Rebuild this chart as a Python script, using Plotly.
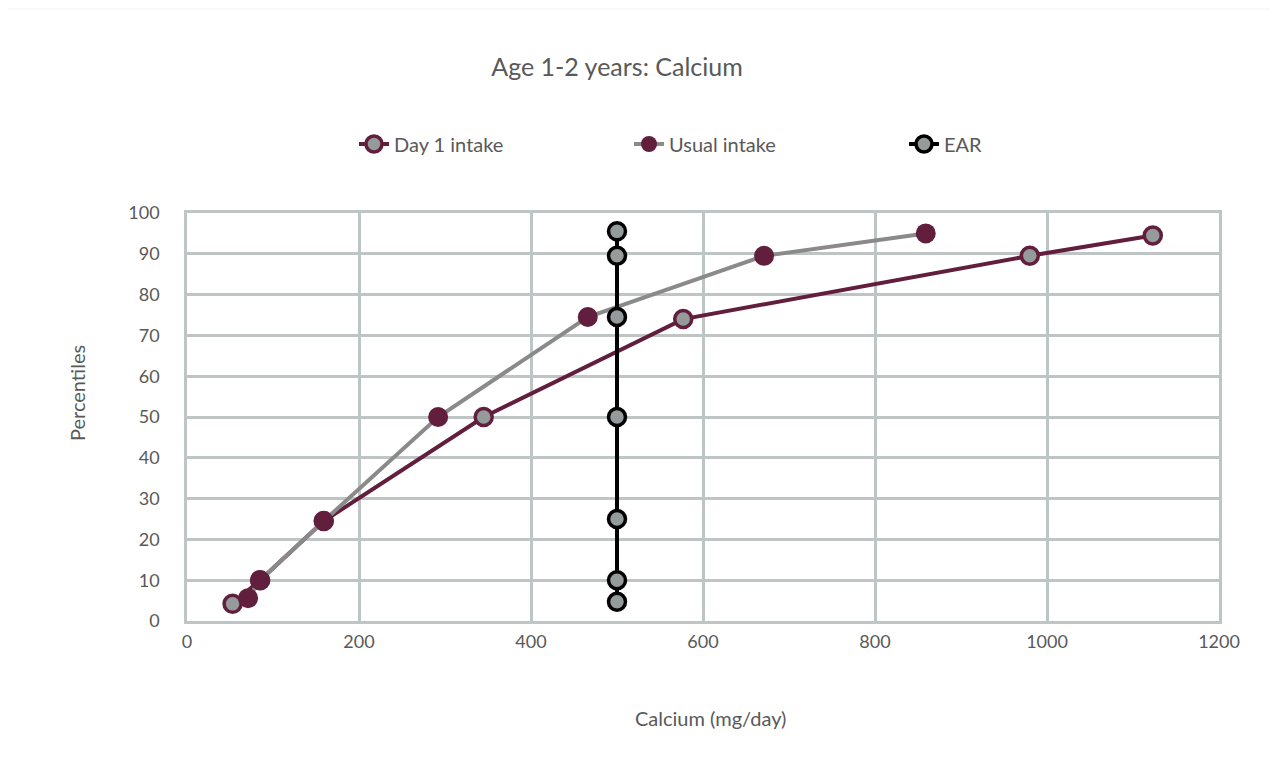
import plotly.graph_objects as go

# Data
day1_x = [53, 85, 159, 345, 577, 980, 1123]
day1_y = [4.2, 10, 24.5, 50, 74, 89.5, 94.5]

usual_x = [71, 85, 159, 292, 466, 671, 859]
usual_y = [5.6, 10, 24.5, 50, 74.5, 89.5, 95]

ear_x = [500, 500, 500, 500, 500, 500, 500]
ear_y = [4.7, 10, 25, 50, 74.5, 89.5, 95.5]

x_ticks = [0, 200, 400, 600, 800, 1000, 1200]
y_ticks = [0, 10, 20, 30, 40, 50, 60, 70, 80, 90, 100]

MAROON = "#621f3d"
GRAY_LINE = "#8a8a8a"
GRAY_FILL = "#959a9a"
GRID = "#bfc5c5"
TEXT = "#595959"
FONT = "Lato, Open Sans, sans-serif"

fig = go.Figure()

fig.add_trace(go.Scatter(
    x=day1_x, y=day1_y, name="Day 1 intake", mode="lines+markers",
    line=dict(color=MAROON, width=4),
    marker=dict(size=17, color=GRAY_FILL, line=dict(color=MAROON, width=3.5)),
))
fig.add_trace(go.Scatter(
    x=usual_x, y=usual_y, name="Usual intake", mode="lines+markers",
    line=dict(color=GRAY_LINE, width=4),
    marker=dict(size=20, color=MAROON, line=dict(color=MAROON, width=0)),
))
fig.add_trace(go.Scatter(
    x=ear_x, y=ear_y, name="EAR", mode="lines+markers",
    line=dict(color="#000000", width=4),
    marker=dict(size=17, color=GRAY_FILL, line=dict(color="#000000", width=3.5)),
))

# page is offset by 8px body margin; figure coords = page - 8
OFF = 8
W, H = 1278 - OFF, 773 - OFF
PX0, PX1, PY0, PY1 = 187 - OFF, 1219 - OFF, 213 - OFF, 621 - OFF
L, R, T, B = PX0, W - PX1, PY0, H - PY1
pw, ph = PX1 - PX0, PY1 - PY0

def px_to_paper_x(px):
    return (px - OFF - PX0) / pw

def px_to_paper_y(py):
    return (PY1 - (py - OFF)) / ph

fig.add_shape(type="rect", xref="paper", yref="paper",
              x0=px_to_paper_x(2), x1=px_to_paper_x(1300),
              y0=px_to_paper_y(800), y1=px_to_paper_y(10),
              fillcolor="white", line=dict(width=0), layer="below")

# axis titles as annotations for precise placement
fig.add_annotation(text="Percentiles", xref="paper", yref="paper",
                   x=px_to_paper_x(77), y=px_to_paper_y(393), textangle=-90,
                   showarrow=False, xanchor="center", yanchor="middle",
                   font=dict(size=20, color=TEXT, family=FONT))
fig.add_annotation(text="Calcium (mg/day)", xref="paper", yref="paper",
                   x=px_to_paper_x(710), y=px_to_paper_y(718),
                   showarrow=False, xanchor="center", yanchor="middle",
                   font=dict(size=20, color=TEXT, family=FONT))

fig.update_layout(
    width=W, height=H,
    margin=dict(l=L, r=R, t=T, b=B),
    paper_bgcolor="#f8f9f8",
    plot_bgcolor="rgba(0,0,0,0)",
    font=dict(family=FONT, color=TEXT, size=18),
    title=dict(text="Age 1-2 years: Calcium", x=(617 - OFF) / W, xanchor="center",
               xref="container", yref="container", y=1 - (67 - OFF) / H, yanchor="middle",
               font=dict(size=25, color=TEXT)),
    legend=dict(orientation="h", x=px_to_paper_x(354), xanchor="left",
                y=px_to_paper_y(144), yanchor="middle",
                entrywidth=230, entrywidthmode="pixels",
                font=dict(size=20, color=TEXT), bgcolor="rgba(0,0,0,0)"),
    showlegend=True,
)

fig.update_xaxes(range=[0, 1200], tickvals=x_ticks, ticktext=[str(v) for v in x_ticks],
                 showgrid=True, gridcolor=GRID, gridwidth=2.5,
                 showline=True, linecolor=GRID, linewidth=2.5, mirror=True,
                 zeroline=False, ticks="", ticklabelstandoff=3,
                 tickfont=dict(size=18, color=TEXT))
fig.update_yaxes(range=[0, 100], tickvals=y_ticks, ticktext=[str(v) for v in y_ticks],
                 showgrid=True, gridcolor=GRID, gridwidth=2.5,
                 showline=True, linecolor=GRID, linewidth=2.5, mirror=True,
                 zeroline=False, ticks="", ticklabelstandoff=21,
                 tickfont=dict(size=18, color=TEXT))

fig.write_html("out.html")
